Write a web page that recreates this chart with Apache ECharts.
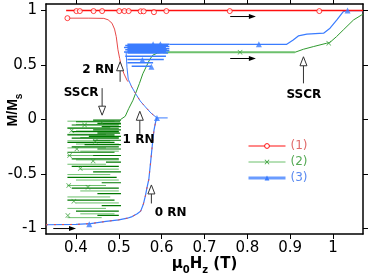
<!DOCTYPE html>
<html><head><meta charset="utf-8">
<script src="https://cdn.jsdelivr.net/npm/echarts@6/dist/echarts.min.js"></script>
<style>html,body{margin:0;padding:0;background:#fff}#c{width:374px;height:276px}</style>
</head><body><div id="c"></div>
<script>
// ---------- ticks ----------
const xTicks = [0.4, 0.5, 0.6, 0.7, 0.8, 0.9, 1];
const yTicks = [-1, -0.5, 0, 0.5, 1];
const seriesNames = ['(1)', '(2)', '(3)'];

// ---------- series (1) red ----------
const red1Top = [[0.377, 1.0], [1.07, 1.0]];
const red1Drop = [[0.38, 0.93], [0.43, 0.93], [0.465, 0.928], [0.475, 0.915], [0.484, 0.884], [0.49, 0.83], [0.494, 0.76], [0.498, 0.64], [0.502, 0.56], [0.506, 0.484], [0.512, 0.42], [0.519, 0.362]];
const red1Desc = [[0.519, 0.362], [0.53, 0.3], [0.539, 0.239], [0.55, 0.17], [0.562, 0.116], [0.575, 0.06], [0.589, 0.015]];
const red1Low = [[0.33, -0.965], [0.40, -0.962], [0.434, -0.955], [0.47, -0.935], [0.5, -0.92], [0.52, -0.905], [0.531, -0.89], [0.543, -0.865], [0.551, -0.84], [0.557, -0.78], [0.562, -0.70], [0.566, -0.62], [0.570, -0.55], [0.574, -0.40], [0.578, -0.24], [0.582, -0.10], [0.586, -0.02], [0.589, 0.015]];
const red1Marks = [[0.38, 0.93], [0.401, 0.995], [0.409, 0.995], [0.441, 0.995], [0.461, 0.995], [0.501, 0.995], [0.513, 0.995], [0.523, 0.995], [0.551, 0.993], [0.558, 0.993], [0.582, 0.985], [0.611, 0.995], [0.759, 0.995], [0.968, 0.995]];

// ---------- series (2) green ----------
const green2DarkLevels = [[-0.005, 0.44, 0.505], [-0.02, 0.40, 0.503], [-0.035, 0.45, 0.505], [-0.05, 0.39, 0.50], [-0.065, 0.46, 0.505], [-0.08, 0.38, 0.50], [-0.095, 0.44, 0.505], [-0.11, 0.39, 0.50], [-0.125, 0.45, 0.503], [-0.14, 0.38, 0.49], [-0.155, 0.43, 0.505], [-0.17, 0.39, 0.50], [-0.19, 0.44, 0.505], [-0.21, 0.38, 0.49], [-0.23, 0.42, 0.505], [-0.25, 0.39, 0.50], [-0.27, 0.45, 0.505], [-0.30, 0.38, 0.49], [-0.33, 0.44, 0.505], [-0.36, 0.39, 0.50], [-0.39, 0.47, 0.505], [-0.43, 0.39, 0.50], [-0.48, 0.44, 0.505], [-0.53, 0.38, 0.495], [-0.58, 0.46, 0.505], [-0.63, 0.39, 0.50], [-0.68, 0.45, 0.505], [-0.74, 0.38, 0.49], [-0.79, 0.46, 0.505], [-0.84, 0.40, 0.50], [-0.88, 0.45, 0.50]];
const green2LightLevels = [[-0.015, 0.38, 0.49], [-0.045, 0.40, 0.505], [-0.075, 0.38, 0.48], [-0.105, 0.40, 0.50], [-0.135, 0.38, 0.47], [-0.165, 0.41, 0.50], [-0.195, 0.38, 0.48], [-0.225, 0.40, 0.50], [-0.26, 0.38, 0.47], [-0.29, 0.41, 0.50], [-0.33, 0.38, 0.48], [-0.37, 0.40, 0.50], [-0.41, 0.38, 0.47], [-0.455, 0.41, 0.50], [-0.505, 0.38, 0.48], [-0.555, 0.40, 0.50], [-0.605, 0.38, 0.47], [-0.655, 0.41, 0.50], [-0.71, 0.38, 0.48], [-0.765, 0.40, 0.50], [-0.815, 0.38, 0.47], [-0.865, 0.41, 0.49], [-0.90, 0.38, 0.46]];
const green2Rise = [[0.504, 0.0], [0.515, 0.03], [0.523, 0.1], [0.533, 0.177], [0.548, 0.33], [0.556, 0.42], [0.564, 0.485], [0.572, 0.55], [0.579, 0.59], [0.59, 0.61], [0.603, 0.617]];
const green2Flat = [[0.603, 0.617], [0.911, 0.617]];
const green2Upper = [[0.911, 0.617], [0.931, 0.645], [0.954, 0.669], [0.985, 0.70], [0.992, 0.705], [1.008, 0.76], [1.024, 0.822], [1.048, 0.914], [1.067, 0.96], [1.07, 0.963]];
const green2Marks = [[0.783, 0.617], [0.99, 0.70], [0.383, -0.605], [0.41, -0.45], [0.402, -0.27], [0.381, -0.88], [0.428, -0.62], [0.39, -0.10], [0.42, -0.05], [0.445, -0.2], [0.395, -0.75], [0.44, -0.38], [0.46, -0.03], [0.385, -0.33]];

// ---------- series (3) blue ----------
const blue3Levels = [[0.69, 0.52, 0.618], [0.68, 0.515, 0.615], [0.67, 0.52, 0.618], [0.66, 0.512, 0.61], [0.65, 0.52, 0.618], [0.64, 0.515, 0.612], [0.63, 0.52, 0.618], [0.62, 0.512, 0.61], [0.61, 0.52, 0.615], [0.58, 0.515, 0.61], [0.55, 0.52, 0.605], [0.52, 0.52, 0.58], [0.49, 0.53, 0.575]];
const blue3Desc = [[0.517, 0.62], [0.519, 0.48], [0.522, 0.37], [0.53, 0.3], [0.539, 0.239], [0.55, 0.17], [0.562, 0.116], [0.575, 0.06], [0.589, 0.015], [0.614, 0.015]];
const blue3Low = [[0.33, -0.965], [0.40, -0.962], [0.434, -0.955], [0.47, -0.935], [0.5, -0.92], [0.52, -0.905], [0.531, -0.89], [0.543, -0.865], [0.551, -0.84], [0.557, -0.78], [0.562, -0.70], [0.566, -0.62], [0.570, -0.55], [0.574, -0.40], [0.578, -0.24], [0.582, -0.10], [0.586, -0.02], [0.589, 0.015]];
const blue3High = [[0.618, 0.69], [0.892, 0.69], [0.907, 0.73], [0.919, 0.767], [0.939, 0.783], [0.978, 0.792], [0.993, 0.838], [1.009, 0.914], [1.024, 0.99], [1.032, 1.0], [1.07, 1.0]];
const blue3Marks = [[0.431, -0.96], [0.589, 0.015], [0.555, 0.546], [0.576, 0.485], [0.597, 0.69], [0.58, 0.69], [0.827, 0.69], [1.034, 1.0]];

// ---------- annotations ----------
const sweepArrows = [[0.347, -1.0, 0.40, -1.0], [0.76, 0.945, 0.82, 0.945], [0.76, 0.56, 0.82, 0.56]];
const noteTexts = ['2 RN', 'SSCR', '1 RN', '0 RN', 'SSCR'];
// [arrow x, tail y, head y, label x, label y]
const noteArrows = [[0.503, 0.346, 0.53, 0.452, 0.454], [0.461, 0.288, 0.04, 0.412, 0.242], [0.549, -0.13, 0.076, 0.546, -0.19], [0.576, -0.77, -0.6, 0.621, -0.86], [0.931, 0.332, 0.576, 0.932, 0.23]];

// ---------- build ----------
const RED = '#ff1010', RED2 = '#e84a4a', GREEN_D = '#007800', GREEN_L = '#6cc06c', GREEN = '#2f9a2f', BLUE = '#3a7cff';
function segments(levels) {
  const pts = [];
  levels.forEach((l, i) => {
    if (i > 0) pts.push(null);
    pts.push([l[1], l[0]], [l[2], l[0]]);
  });
  return pts;
}
function line(name, data, color, width, extra) {
  return Object.assign({
    name, type: 'line', data, showSymbol: false, symbol: 'none', animation: false, silent: true, connectNulls: false,
    lineStyle: { color, width }, itemStyle: { color }, z: 2
  }, extra || {});
}
function marks(name, data, symbol, size, itemStyle) {
  return { name, type: 'scatter', data, symbol, symbolSize: size, itemStyle, animation: false, silent: true, z: 5 };
}
const xSym = 'path://M0,1L1,0L5,4L9,0L10,1L6,5L10,9L9,10L5,6L1,10L0,9L4,5Z';
const redItem = { color: '#fff', borderColor: RED, borderWidth: 1 };
const greenItem = { color: GREEN };
const blueItem = { color: BLUE };

const series = [
  line('(1)', red1Top, RED, 1.5, { symbol: 'circle', itemStyle: redItem, z: 4 }),
  line('(2)', segments(green2LightLevels), GREEN_L, 1, { symbol: xSym, itemStyle: greenItem }),
  line('(3)', segments(blue3Levels), BLUE, 1.5, { symbol: 'triangle', itemStyle: blueItem, z: 3 }),
  line('(2)', segments(green2DarkLevels), GREEN_D, 1.2),
  line('(2)', green2Rise, GREEN, 1),
  line('(2)', green2Flat, GREEN_L, 2),
  line('(2)', green2Upper, GREEN, 1),
  line('(3)', blue3Desc, BLUE, 1, { z: 3 }),
  line('(3)', blue3Low, BLUE, 1.2, { z: 3 }),
  line('(3)', blue3High, BLUE, 1.2, { z: 3 }),
  line('(1)', red1Drop, RED2, 1, { z: 4 }),
  line('(1)', red1Desc, RED2, 1, { z: 4, lineStyle: { color: RED2, width: 1, type: [2, 5] } }),
  line('(1)', red1Low, RED2, 1, { z: 4, lineStyle: { color: RED2, width: 1, type: [2, 6] } }),
  marks('(1)', red1Marks, 'circle', 5, redItem),
  marks('(2)', green2Marks, xSym, 5, greenItem),
  marks('(3)', blue3Marks, 'triangle', 6, blueItem),
  {
    name: 'arrows', type: 'custom', data: sweepArrows, animation: false, silent: true, z: 6,
    renderItem: function (params, api) {
      const a = api.coord([api.value(0), api.value(1)]);
      const b = api.coord([api.value(2), api.value(3)]);
      return { type: 'group', children: [
        { type: 'line', shape: { x1: a[0], y1: a[1], x2: b[0] - 5, y2: b[1] }, style: { stroke: '#000', lineWidth: 1 } },
        { type: 'polygon', shape: { points: [[b[0], b[1]], [b[0] - 7, b[1] - 2.5], [b[0] - 7, b[1] + 2.5]] }, style: { fill: '#000' } }
      ] };
    }
  },
  {
    name: 'notes', type: 'custom', data: noteArrows, animation: false, silent: true, z: 6,
    renderItem: function (params, api) {
      const t = api.coord([api.value(0), api.value(1)]);
      const h = api.coord([api.value(0), api.value(2)]);
      const l = api.coord([api.value(3), api.value(4)]);
      const dir = h[1] < t[1] ? 1 : -1;
      const baseY = h[1] + dir * 9;
      return { type: 'group', children: [
        { type: 'line', shape: { x1: t[0], y1: t[1], x2: t[0], y2: baseY }, style: { stroke: '#333', lineWidth: 1 } },
        { type: 'polygon', shape: { points: [[h[0], h[1]], [h[0] - 3.5, baseY], [h[0] + 3.5, baseY]] }, style: { fill: '#fff', stroke: '#333', lineWidth: 1 } },
        { type: 'text', x: l[0], y: l[1], style: { text: noteTexts[params.dataIndex], fill: '#000', font: 'bold 12px "DejaVu Sans"', align: 'center', verticalAlign: 'middle' } }
      ] };
    }
  }
];

const axisCommon = {
  type: 'value',
  axisLine: { show: true, onZero: false, lineStyle: { color: '#000', width: 1.5 } },
  axisTick: { show: true, inside: false, length: 5, lineStyle: { color: '#000', width: 1 } },
  splitLine: { show: false },
  axisLabel: { color: '#000', fontSize: 15, fontFamily: 'DejaVu Sans' }
};
function ax(base, extra) { return Object.assign(JSON.parse(JSON.stringify(base)), extra); }

const option = {
  backgroundColor: '#fff',
  animation: false,
  grid: { left: 46, right: 11, top: 4, bottom: 42, containLabel: false, outerBoundsMode: 'none' },
  legend: {
    orient: 'vertical', left: 247, top: 140, padding: 0, itemWidth: 37, itemHeight: 6, itemGap: 4,
    itemStyle: { borderWidth: 1 },
    textStyle: { fontSize: 12, fontFamily: 'DejaVu Sans' },
    data: [
      { name: '(1)', textStyle: { color: '#e06a6a' }, lineStyle: { width: 1 } },
      { name: '(2)', textStyle: { color: '#55aa55' }, lineStyle: { width: 1 } },
      { name: '(3)', textStyle: { color: '#5a8af0' }, lineStyle: { width: 3, color: '#6a9cff' } }
    ],
    selectedMode: false
  },
  xAxis: [
    ax(axisCommon, {
      min: 0.33, max: 1.07, position: 'bottom',
      axisTick: Object.assign({}, axisCommon.axisTick, { customValues: xTicks }),
      axisLabel: Object.assign({}, axisCommon.axisLabel, { customValues: xTicks, margin: 7 }),
      name: '{b|μ}{s|0}{b|H}{s|z}{b| (T)}', nameLocation: 'middle', nameGap: 19, nameMoveOverlap: false,
      nameTextStyle: { rich: {
        b: { fontSize: 15, fontWeight: 'bold', fontFamily: 'DejaVu Sans', color: '#000', lineHeight: 22 },
        s: { fontSize: 10, fontWeight: 'bold', fontFamily: 'DejaVu Sans', color: '#000', lineHeight: 10, verticalAlign: 'bottom' }
      } }
    }),
    ax(axisCommon, {
      min: 0.33, max: 1.07, position: 'top',
      axisTick: Object.assign({}, axisCommon.axisTick, { customValues: xTicks }),
      axisLabel: { show: false }
    })
  ],
  yAxis: [
    ax(axisCommon, {
      min: -1.05, max: 1.06, position: 'left',
      axisTick: Object.assign({}, axisCommon.axisTick, { customValues: yTicks }),
      axisLabel: Object.assign({}, axisCommon.axisLabel, { customValues: yTicks, margin: 9 }),
      name: '{b|M/M}{s|s}', nameLocation: 'middle', nameGap: 22, nameRotate: 90, nameMoveOverlap: false,
      nameTextStyle: { padding: [0, 0, 0, 18], rich: {
        b: { fontSize: 14, fontWeight: 'bold', fontFamily: 'Liberation Sans', color: '#000', lineHeight: 22 },
        s: { fontSize: 10, fontWeight: 'bold', fontFamily: 'Liberation Sans', color: '#000', lineHeight: 10, verticalAlign: 'bottom' }
      } }
    }),
    ax(axisCommon, {
      min: -1.05, max: 1.06, position: 'right',
      axisTick: Object.assign({}, axisCommon.axisTick, { customValues: yTicks }),
      axisLabel: { show: false }
    })
  ],
  series
};
const chart = echarts.init(document.getElementById('c'), null, { renderer: 'canvas' });
chart.setOption(option);
</script>
</body></html>
